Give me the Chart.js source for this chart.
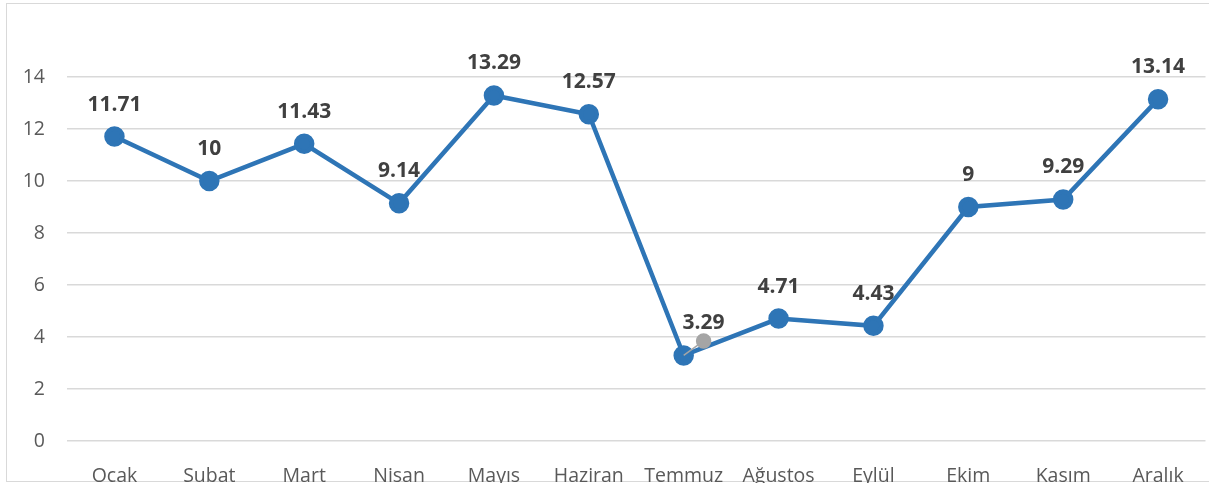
<!DOCTYPE html>
<html>
<head>
<meta charset="utf-8">
<script src="https://cdn.jsdelivr.net/npm/chart.js@4.4.1/dist/chart.umd.min.js"></script>
<style>
  html, body { margin: 0; padding: 0; background: #fff; overflow: hidden; width: 1209px; height: 483px; }
  #frame { position: absolute; left: 6px; top: 3px; width: 1300px; height: 477px; border: 1px solid #d9d9d9; }
  #wrap { position: absolute; left: 0; top: 0; width: 1218px; height: 500px; }
</style>
</head>
<body>
<div id="frame"></div>
<div id="wrap"><canvas id="c" width="1218" height="500"></canvas></div>
<script>
const months = ["Ocak", "Subat", "Mart", "Nisan", "Mayıs", "Haziran", "Temmuz", "Ağustos", "Eylül", "Ekim", "Kasım", "Aralık"];
const values = [11.71, 10, 11.43, 9.14, 13.29, 12.57, 3.29, 4.71, 4.43, 9, 9.29, 13.14];
const valueLabels = ["11.71", "10", "11.43", "9.14", "13.29", "12.57", "3.29", "4.71", "4.43", "9", "9.29", "13.14"];
const leaderPoints = [{ x: 6, y: 3.29 }, { x: 6.21, y: 3.85 }];
const yTicks = [0, 2, 4, 6, 8, 10, 12, 14];

const FONT = "'Open Sans', 'Liberation Sans', sans-serif";

const labelPlugin = {
  id: 'valueLabels',
  afterDatasetsDraw(chart) {
    const meta = chart.getDatasetMeta(1);
    const leaderEnd = chart.getDatasetMeta(0).data[1];
    const ctx = chart.ctx;
    ctx.save();
    ctx.font = "bold 21px " + FONT;
    ctx.fillStyle = "#404040";
    ctx.textAlign = "center";
    ctx.textBaseline = "middle";
    meta.data.forEach((pt, i) => {
      const x = (i === 6) ? leaderEnd.x : pt.x;
      ctx.fillText(valueLabels[i], x, pt.y - 32);
    });
    ctx.restore();
  }
};

new Chart(document.getElementById('c'), {
  type: 'line',
  data: {
    labels: months,
    datasets: [
      {
        label: 'leader',
        data: leaderPoints,
        xAxisID: 'x2',
        borderColor: '#A5A5A5',
        borderWidth: 1.5,
        pointRadius: [0, 7],
        pointHoverRadius: [0, 7],
        pointBackgroundColor: '#A5A5A5',
        pointBorderColor: '#A5A5A5',
        order: 0
      },
      {
        label: 'Seri',
        data: values,
        borderColor: '#2E75B6',
        backgroundColor: '#2E75B6',
        borderWidth: 4.5,
        pointRadius: 8,
        pointHoverRadius: 8,
        pointBackgroundColor: '#2E75B6',
        pointBorderColor: '#2E75B6',
        tension: 0,
        order: 1
      }
    ]
  },
  options: {
    responsive: false,
    animation: false,
    events: [],
    layout: { padding: { top: 77, right: 4, left: 0, bottom: 0 } },
    plugins: { legend: { display: false }, tooltip: { enabled: false } },
    scales: {
      x: {
        type: 'category',
        offset: true,
        grid: { display: false, drawTicks: false },
        border: { display: false },
        ticks: { color: '#595959', font: { family: FONT, size: 19.5 }, padding: 24, maxRotation: 0, autoSkip: false },
        afterFit(s) { s.height = 59; s.paddingLeft = 0; s.paddingRight = 0; }
      },
      x2: {
        type: 'linear',
        display: false,
        min: -0.5,
        max: 11.5
      },
      y: {
        min: 0,
        max: 14,
        afterBuildTicks(s) { s.ticks = yTicks.map(v => ({ value: v })); },
        grid: { color: '#d9d9d9', lineWidth: 1.5, drawTicks: false },
        border: { display: false },
        ticks: { color: '#595959', font: { family: FONT, size: 19.5 }, padding: 22 },
        afterFit(s) { s.width = 67; s.paddingTop = 0; s.paddingBottom = 0; }
      }
    }
  },
  plugins: [labelPlugin]
});
</script>
</body>
</html>
